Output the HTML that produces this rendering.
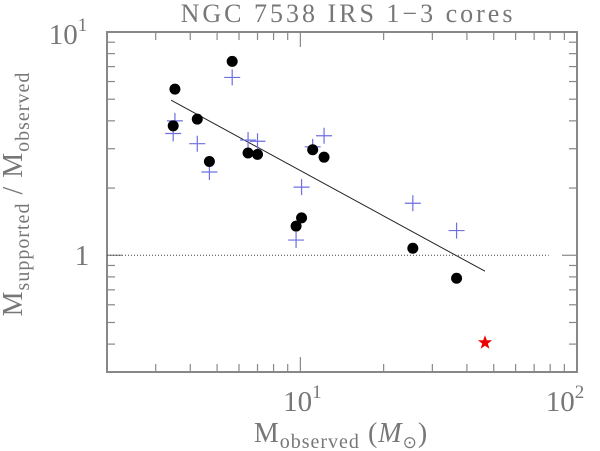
<!DOCTYPE html>
<html><head><meta charset="utf-8"><style>
html,body{margin:0;padding:0;background:#fff;}
svg{display:block;font-family:"Liberation Serif",serif;}
</style></head><body>
<svg id="chart" width="600" height="451" viewBox="0 0 600 451" xmlns="http://www.w3.org/2000/svg">
<text x="348" y="22" text-anchor="middle" font-size="26" fill="#777" letter-spacing="3">NGC 7538 IRS 1−3 cores</text>
<g id="plot"></g>
<text x="341" y="442" text-anchor="middle" font-size="28" fill="#777" letter-spacing="1">M<tspan font-size="20" dy="6">observed</tspan><tspan dy="-6">  (</tspan><tspan font-style="italic">M</tspan><tspan font-size="17" dy="6">⊙</tspan><tspan dy="-6">)</tspan></text>
<text transform="translate(22,194) rotate(-90)" text-anchor="middle" font-size="28" fill="#777" letter-spacing="1">M<tspan font-size="20" dy="7">supported</tspan><tspan dy="-7">  /  M</tspan><tspan font-size="20" dy="7">observed</tspan></text>
</svg>
<script>
const circX=[3.52,3.47,4.24,4.69,5.67,6.47,7.0,9.65,10.1,11.08,12.18,25.5,36.7];
const circY=[5.55,3.80,4.07,2.63,7.39,2.87,2.83,1.35,1.47,2.97,2.75,1.075,0.789];
const crossX=[3.47,3.52,4.24,4.69,5.67,6.47,7.0,9.65,10.1,11.08,12.18,25.5,36.7];
const crossY=[3.51,4.0,3.16,2.36,6.26,3.28,3.24,1.17,2.02,3.06,3.43,1.71,1.29];
const starX=[46.5];
const starY=[0.406];
const fitX=[3.41,46.5];
const fitY=[4.95,0.848];
const refY=1;
const xMin=2,xMax=100,yMin=0.3,yMax=10;
const L=107,R=577,T=32,B=372;
const NS='http://www.w3.org/2000/svg';
const sx=v=>L+(Math.log10(v)-Math.log10(xMin))/(Math.log10(xMax)-Math.log10(xMin))*(R-L);
const sy=v=>B-(Math.log10(v)-Math.log10(yMin))/(Math.log10(yMax)-Math.log10(yMin))*(B-T);
const g=document.getElementById('plot');
function mk(tag,at){const e=document.createElementNS(NS,tag);for(const k in at)e.setAttribute(k,at[k]);g.appendChild(e);return e;}
let e=mk('rect',{x:L,y:T,width:R-L,height:B-T,fill:'none',stroke:'#888','stroke-width':2});


for(let d=1;d<=100;d*=10){for(let m=1;m<10;m++){const v=d*m;if(v<xMin||v>xMax)continue;const x=sx(v);const len=m===1?15:8;
e=mk('line',{x1:x,y1:B,x2:x,y2:B-len,stroke:'#888','stroke-width':1.2});


e=mk('line',{x1:x,y1:T,x2:x,y2:T+len,stroke:'#888','stroke-width':1.2});

}}
for(let d=0.1;d<=10;d*=10){for(let m=1;m<10;m++){const v=+(d*m).toFixed(3);if(v<yMin||v>yMax)continue;const y=sy(v);const len=m===1?15:8;
e=mk('line',{x1:L,y1:y,x2:L+len,y2:y,stroke:'#888','stroke-width':1.2});


e=mk('line',{x1:R,y1:y,x2:R-len,y2:y,stroke:'#888','stroke-width':1.2});

}}
function lab(x,y,html,name){const t=document.createElementNS(NS,'text');t.setAttribute('x',x);t.setAttribute('y',y);t.setAttribute('font-size','29');t.setAttribute('fill','#777');t.setAttribute('text-anchor','middle');t.innerHTML=html;


g.appendChild(t);}
lab(sx(10)+2,411,'10<tspan font-size="19" dy="-13">1</tspan>','x-tick-label-10');
lab(sx(100)-12,411,'10<tspan font-size="19" dy="-13">2</tspan>','x-tick-label-100');
lab(68,44,'10<tspan font-size="19" dy="-13">1</tspan>','y-tick-label-10');
lab(82,265,'1','y-tick-label-1');
e=mk('line',{x1:L,y1:sy(refY),x2:sx(79),y2:sy(refY),stroke:'#444','stroke-width':1,'stroke-dasharray':'1,2'});


e=mk('line',{x1:sx(fitX[0]),y1:sy(fitY[0]),x2:sx(fitX[1]),y2:sy(fitY[1]),stroke:'#222','stroke-width':1});


crossX.forEach((v,i)=>{const x=sx(v),y=sy(crossY[i]);
const p=mk('path',{d:`M${x-8},${y}H${x+8}M${x},${y-8}V${y+8}`,stroke:'#6f6fe0','stroke-width':1.2,fill:'none'});

});
circX.forEach((v,i)=>{
const c=mk('circle',{cx:sx(v),cy:sy(circY[i]),r:5.5,fill:'#000'});

});
starX.forEach((v,i)=>{const cx=sx(v),cy=sy(starY[i]);let pts=[];for(let k=0;k<10;k++){const r=k%2?3:7.5;const a=-Math.PI/2+k*Math.PI/5;pts.push((cx+r*Math.cos(a)).toFixed(1)+','+(cy+r*Math.sin(a)).toFixed(1));}
const s=mk('polygon',{points:pts.join(' '),fill:'#e00'});

});
</script>
</body></html>
